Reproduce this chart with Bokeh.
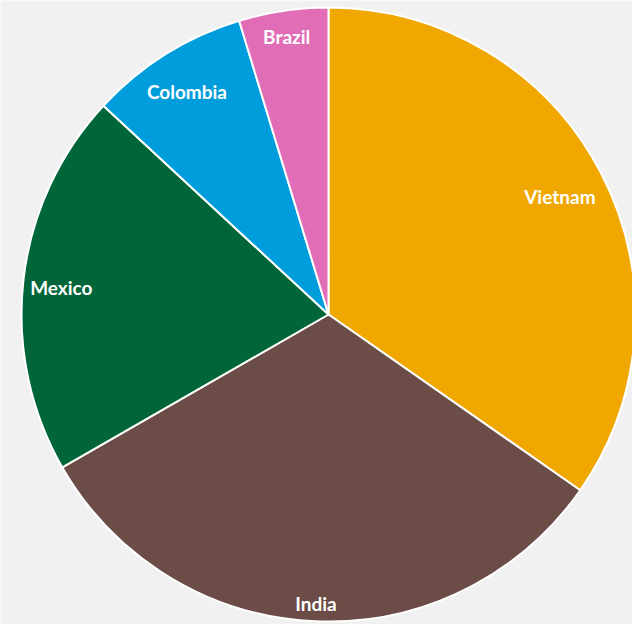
import math
from bokeh.plotting import figure
from bokeh.models import ColumnDataSource
from bokeh.core.properties import value
from bokeh.embed import file_html
from bokeh.resources import INLINE

# Data (share, %), clockwise from 12 o'clock
countries = ["Vietnam", "India", "Mexico", "Colombia", "Brazil"]
shares = [34.7, 32.0, 20.2, 8.4, 4.7]
colors = ["#F0A800", "#6B4C46", "#00663A", "#009DDC", "#E06DB5"]

# Layout
W, H = 632, 624
CX, CY = 328, H - 314
R = 307
label_r = [0.85, 0.932, 0.876, 0.869, 0.925]

total = sum(shares)
starts, ends, lx, ly = [], [], [], []
cum = 0.0
for s, fr in zip(shares, label_r):
    a0 = cum / total * 2 * math.pi
    cum += s
    a1 = cum / total * 2 * math.pi
    starts.append(math.pi / 2 - a0)
    ends.append(math.pi / 2 - a1)
    mid = (a0 + a1) / 2
    lx.append(CX + fr * R * math.sin(mid))
    ly.append(CY + fr * R * math.cos(mid))

src = ColumnDataSource(dict(country=countries, start=starts, end=ends,
                            color=colors, lx=lx, ly=ly))

p = figure(width=W, height=H, x_range=(0, W), y_range=(0, H),
           output_backend="svg", toolbar_location=None, min_border=0)
p.axis.visible = False
p.grid.visible = False
p.outline_line_color = None
p.background_fill_color = "#F1F1F1"
p.border_fill_color = "#F1F1F1"

p.wedge(x=CX, y=CY, radius=R, start_angle="start", end_angle="end",
        direction="clock", fill_color="color", line_color="white",
        line_width=2, source=src)

p.text(x="lx", y="ly", text="country", source=src, text_color="#FFFFFF",
       text_font=value("Lato"), text_font_style="bold", text_font_size="19px",
       text_align="center", text_baseline="middle", y_offset=3)

open("out.html", "w").write(file_html(p, INLINE))
